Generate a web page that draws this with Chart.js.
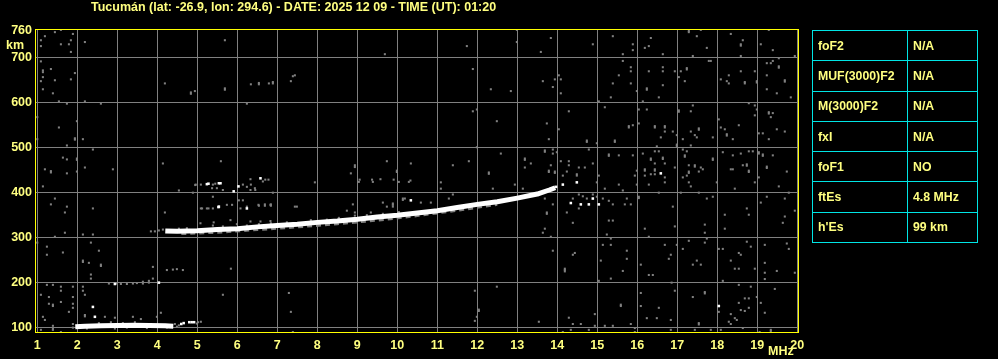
<!DOCTYPE html>
<html><head><meta charset="utf-8">
<script src="https://cdn.jsdelivr.net/npm/chart.js@4.4.1/dist/chart.umd.min.js"></script>
<style>
html,body{margin:0;padding:0;background:#000;}
#wrap{position:relative;width:998px;height:359px;background:#000;overflow:hidden;font-family:"Liberation Sans",Arial,sans-serif;}
#c{position:absolute;left:0;top:0;}
.lbl{position:absolute;color:#ffff80;font-weight:bold;white-space:nowrap;}
#title{left:91px;top:0px;font-size:12.5px;line-height:14px;}
#km{left:6px;top:38px;font-size:12.5px;line-height:14px;}
#mhz{left:768px;top:344px;font-size:12.5px;line-height:14px;}
#tbl{position:absolute;left:812px;top:30px;border-collapse:collapse;}
#tbl td{border:1px solid #00e5e5;color:#ffff80;font-weight:bold;font-size:12.3px;padding:0 0 0 5px;height:30.3px;box-sizing:border-box;white-space:nowrap;}
#tbl td.k{width:95px;}
#tbl td.v{width:70px;}
</style></head>
<body>
<div id="wrap">
<canvas id="c" width="998" height="359"></canvas>
<div class="lbl" id="title">Tucumán (lat: -26.9, lon: 294.6) - DATE: 2025 12 09 - TIME (UT): 01:20</div>
<div class="lbl" id="km">km</div>
<div class="lbl" id="mhz">MHz</div>
<table id="tbl"></table>
</div>
<script>
// ---- tick labels ----
const freqTicks = [1,2,3,4,5,6,7,8,9,10,11,12,13,14,15,16,17,18,19,20];
const heightTicks = [100,200,300,400,500,600,700,760];

// ---- scaled parameters table ----
const paramNames = ["foF2","MUF(3000)F2","M(3000)F2","fxI","foF1","ftEs","h'Es"];
const paramValues = ["N/A","N/A","N/A","N/A","NO","4.8 MHz","99 km"];

// ---- F-layer trace (MHz, km) ----
const fTraceFreq   = [4.2, 4.5, 5.0, 5.5, 6.0, 6.5, 7.0, 7.5, 8.0, 8.5, 9.0, 9.5, 10.0, 10.5, 11.0, 11.5, 12.0, 12.5, 13.0, 13.5, 13.8, 13.95];
const fTraceHeight = [315, 314, 315.5, 318, 320, 324, 327, 330, 334, 337, 341, 346, 350, 355, 360, 367, 374, 380, 388, 397, 406, 411];
const fFringeFreq   = [4.6, 5.5, 6.5, 7.5, 8.5, 9.5, 10.5, 11.5, 12.5];
const fFringeHeight = [309, 312, 318, 324, 331, 339, 349, 361, 374];

// ---- sporadic E trace ----
const esFreq   = [1.95, 2.2, 2.6, 3.0, 3.4, 3.8, 4.2, 4.4];
const esHeight = [102, 103, 104, 104.5, 105, 104.5, 104, 103];

// ---- strong isolated echoes ----
const strongEchoes = [[5.24,419],[5.54,421],[5.28,420],[5.58,421],[5.91,403],[6.03,414],[6.58,432],[5.53,368],[6.24,365],[5.54,369],[10.34,383],[2.39,146],[2.44,124],[2.94,197],[4.04,200],[14.34,377],[14.59,374],[14.79,374],[14.89,387],[15.04,374],[14.14,418],[14.49,423],[16.59,443],[18.04,148],[4.6,108],[4.66,110],[4.8,112],[4.86,112],[4.92,112],[13.9,410],[13.97,413]];

// ---- weak echoes / noise ----
const noiseUpperLeft = [[1.59,762],[1.44,757],[1.89,753],[1.19,748],[1.09,739],[1.84,739],[1.59,730],[1.79,730],[1.09,726],[2.19,735],[1.84,713],[5.69,739],[9.69,708],
[1.09,692],[1.14,672],[1.14,668],[1.34,675],[1.94,666],[1.14,657],[1.44,650],[1.84,652],[1.09,648],[1.14,630],[1.39,621],[1.54,603],[2.19,603],[1.74,598],[2.59,598],
[4.19,643],[4.84,623],[4.84,620],[4.94,626],[5.69,632],[5.69,629],[6.34,641],[6.54,641],[6.54,644],[6.79,643],[6.89,646],[6.89,643],[7.34,648],[7.39,659],[7.44,661],[6.24,598],
[1.0,568],[1.99,559],[1.54,545],[1.94,521],[1.94,518],[2.14,519],[1.0,519],[1.74,505],[2.39,496],[1.64,478],[1.74,474],[1.99,476],[1.99,473],[4.14,465],[5.59,470],[2.19,456],[2.89,452],[1.19,452],[1.34,445],[1.34,448],[1.74,443],[1.99,447],[8.94,461],[8.94,457],[8.84,443],[9.74,470],[9.99,449],[9.99,446],[10.34,465]];

const noiseUpperRight = [[12.99,762],[11.74,726],[12.99,735],[13.84,744],[13.59,713],[14.89,730],[15.39,748],[15.89,730],[15.89,717],[15.64,708],[16.19,722],[16.29,726],[16.34,744],[16.64,708],[17.29,760],[17.29,757],[17.59,762],[17.49,748],[17.74,722],[17.39,704],[18.34,753],[18.64,739],[18.59,730],[18.59,727],[18.59,704],[19.09,730],[19.39,717],[19.29,762],[19.94,704],
[11.89,675],[12.34,630],[12.84,626],[13.64,648],[13.89,635],[13.94,652],[14.04,661],[14.09,652],[14.09,621],[15.04,603],[15.34,612],[15.39,643],[15.54,661],[15.64,693],[15.84,679],[15.84,670],[15.84,643],[15.99,626],[16.14,603],[16.24,632],[16.24,629],[16.29,670],[16.54,612],[16.64,639],[16.64,679],[16.64,670],[16.94,670],[17.09,670],[17.04,657],[17.24,677],[17.24,674],[17.19,648],[17.79,693],[17.84,693],[18.09,652],[18.24,648],[18.29,661],[18.29,643],[18.59,670],[18.69,646],[18.69,643],[18.94,670],[18.99,648],[18.99,645],[19.24,688],[19.34,688],[19.39,693],[19.54,681],[19.54,678],[19.54,699],[19.24,661],[19.24,630],[19.49,621],[19.69,650],[19.69,647],[19.84,612],
[11.89,581],[11.99,585],[12.49,559],[13.74,554],[14.04,541],[14.29,581],[13.79,519],[14.74,516],[14.74,513],[14.99,510],[15.19,590],[15.44,516],[15.44,513],[15.79,548],[15.79,545],[15.89,550],[16.04,585],[16.04,554],[16.24,585],[16.44,548],[16.44,545],[16.69,548],[16.69,545],[16.69,536],[16.59,523],[16.89,536],[16.99,528],[16.99,507],[16.99,504],[17.04,583],[17.04,580],[17.34,581],[17.39,594],[17.14,519],[17.34,536],[17.44,528],[17.54,543],[17.54,540],[17.49,523],[17.34,505],[17.89,523],[18.04,563],[18.09,545],[18.19,541],[18.24,530],[18.24,527],[18.39,519],[18.54,550],[18.79,599],[18.94,594],[18.99,585],[18.94,572],[19.04,532],[19.14,532],[19.29,579],[19.29,576],[19.39,577],[19.34,568],[19.49,541],[19.69,536],[19.29,519],
[11.39,461],[11.79,470],[12.29,445],[12.29,442],[11.99,501],[12.59,487],[13.19,476],[13.19,473],[13.34,465],[13.19,456],[13.69,494],[13.69,491],[13.89,496],[13.89,487],[13.99,490],[13.84,461],[13.79,449],[13.79,446],[13.94,447],[13.94,444],[14.09,470],[14.29,470],[14.29,461],[14.14,438],[14.24,447],[14.54,456],[14.69,456],[14.89,465],[14.79,496],[14.49,441],[14.49,438],[15.04,438],[15.29,485],[15.29,482],[15.54,483],[15.89,483],[16.14,487],[16.34,476],[16.34,473],[16.44,492],[16.49,503],[16.54,492],[16.64,478],[16.64,475],[16.69,465],[16.44,465],[16.44,452],[16.44,449],[16.34,441],[16.44,441],[16.19,452],[16.19,449],[16.19,438],[15.99,449],[15.94,438],[16.69,434],[16.94,456],[17.14,496],[17.24,492],[17.19,483],[17.19,480],[17.29,461],[17.44,461],[17.44,458],[17.59,456],[17.64,452],[17.29,447],[17.29,444],[17.24,438],[17.14,434],[17.54,447],[17.89,476],[17.89,473],[18.14,490],[18.39,483],[18.59,487],[18.79,492],[18.89,492],[19.04,490],[19.04,487],[19.14,485],[19.14,482],[19.39,483],[18.74,463],[18.74,460],[18.79,449],[18.79,446],[18.64,461],[18.34,452],[18.39,452],[19.24,458],[19.24,455],[19.74,447],[19.04,434]];

const noiseLowerLeft = [[1.14,414],[1.34,374],[1.44,387],[1.74,369],[1.69,356],[2.39,365],[1.69,311],[1.44,302],[2.14,307],[2.39,307],[2.34,289],[1.24,280],[1.24,262],[1.64,267],[2.54,271],[2.14,249],[2.14,246],[2.29,244],[2.59,240],[2.59,237],[2.34,218],[2.34,209],[1.0,289],[1.24,195],[1.39,195],[1.59,191],[1.59,182],[1.89,191],[2.14,191],[2.14,182],[2.19,173],[1.09,173],[1.29,168],[1.59,157],[1.39,151],[1.39,148],[1.29,153],[1.89,168],[1.89,153],[1.89,144],[1.79,135],[1.14,124],[1.19,117],[1.39,104],[1.09,95],[1.39,95],[1.39,98],[1.59,90],[2.19,128],[2.19,125],[2.69,124],[2.94,122],[3.39,124],[3.59,119],[3.99,124],[4.09,133],[3.89,235],[3.79,204],[3.89,209],[4.19,356],[5.64,173],[7.29,177],[7.34,135],[7.39,90],[5.09,113],[7.44,369],[6.14,383],[6.24,369],[6.54,371],[6.69,371],[6.69,374],[6.84,371],[6.84,374],[6.04,383],[5.09,365],[5.24,365],[5.39,365],[8.89,374],[8.74,360],[8.94,356],[9.34,356],[9.64,378],[9.74,369],[9.89,369],[9.89,373],[9.89,376],[10.14,387],[10.19,387],[10.14,384],[7.94,423],[9.04,424],[9.39,424],[10.04,424],[10.29,424],
[2.79,198],[2.99,198],[3.09,197],[3.24,197],[3.39,198],[3.49,199],[3.64,198],[3.79,200],[3.64,202],
[4.24,228],[4.39,229],[4.49,230],[4.64,228],[5.84,231],
[1.89,100],[2.24,98],[2.94,98],[3.24,100],[3.74,99],[4.24,100],[4.49,102],[4.54,105],[4.99,109],[5.02,112],[4.44,108],[1.89,108],[2.54,110],[2.84,112],[3.14,110],[3.44,112],
[3.84,314],[3.94,314],[4.04,316],[4.14,318],[4.54,320],[4.74,321],
[5.39,327],[5.64,325],[5.99,330],[6.24,327],[6.54,330],[6.84,332],[7.24,334],[7.84,339],[8.24,340],[8.54,344],[8.94,349],[9.24,350],[9.64,353],[10.04,357]];

const spreadF = [[4.96,418],[5.09,418],[5.39,418],[4.54,405],[4.89,400],[5.39,391],[5.64,406],[6.14,418],[6.34,418],[6.24,413],[6.44,410],[6.64,425],[6.89,400],[5.37,410],[5.49,410],[6.33,406],[6.45,406],[6.33,430],[6.70,429],[6.78,429],[9.06,429],[9.37,429],[9.58,430],[9.91,429],[10.33,427],[5.12,365],[5.28,365],[5.74,373],[5.87,373],[6.08,365],[6.53,373],[6.83,373],[7.49,369],[5.08,332],[5.41,334],[5.83,339],[6.33,336],[6.58,336],[6.83,337],[4.95,417],[5.45,420]];

const noiseLowerRight = [[14.39,387],[14.54,396],[14.64,392],[14.74,387],[14.89,396],[14.99,391],[15.14,387],[15.29,382],[15.39,374],[15.64,405],[15.74,387],[15.84,374],[15.69,374],[14.54,365],[14.24,356],[13.89,374],[13.69,387],[13.74,356],[13.74,353],
[11.09,423],[11.09,409],[11.29,387],[11.39,396],[10.59,378],[10.84,378],[12.39,409],[12.94,418],[13.14,409],[14.99,423],[15.19,409],[15.54,418],[15.99,418],[16.04,391],[16.04,388],[16.29,418],[16.54,400],[16.69,423],[16.89,369],[17.09,400],[17.29,423],[17.34,414],[17.54,400],[17.74,387],[17.89,391],[17.99,423],[18.44,409],[18.94,423],[19.24,391],[19.54,414],[19.69,387],[19.79,400],[19.94,360],[19.09,378],[18.74,365],[18.79,351],[19.69,347],[19.64,333],[18.19,351],[18.19,320],[17.69,329],[17.69,311],[17.74,298],[17.69,289],[16.94,325],[16.19,320],[16.29,302],[15.24,307],[15.29,338],[15.39,338],[14.39,333],[13.64,311],[13.69,320],[13.84,302],[13.89,271],[14.39,262],[14.44,266],[14.19,231],[14.19,228],[14.19,225],[15.14,284],[15.34,284],[15.34,298],[15.09,249],[15.74,271],[15.74,253],[15.64,226],[16.09,240],[16.29,217],[16.39,217],[16.69,284],[16.79,253],[16.84,262],[16.99,284],[17.14,275],[17.29,293],[17.39,240],[17.49,249],[17.59,240],[18.04,275],[18.14,275],[18.34,249],[18.44,231],[18.54,231],[18.54,266],[18.59,262],[18.74,291],[18.84,280],[18.94,231],[19.19,284],[19.19,244],[19.19,222],[19.19,208],[19.49,226],[19.74,287],[19.79,275],[19.94,222],[15.04,204],[15.34,209],[16.86,200],[16.94,182],[18.14,204],[18.54,195],[18.84,191],[18.99,168],[19.44,186],[19.09,155],[19.19,133],[11.94,182],[12.49,191],[12.04,137],[12.04,140],[11.99,124],[11.94,115],[13.54,113],[14.29,122],[14.39,108],[14.59,108],[14.94,130],[14.94,104],[14.79,95],[15.19,104],[15.39,104],[15.59,151],[15.59,148],[15.84,108],[15.94,99],[15.94,90],[16.09,177],[16.09,148],[16.24,121],[16.49,121],[16.54,144],[16.84,117],[16.84,95],[17.39,168],[17.69,179],[17.69,176],[17.54,110],[17.54,107],[18.04,135],[18.34,130],[18.29,113],[18.34,108],[18.44,121],[18.49,117],[18.59,139],[18.69,137],[18.79,144],[18.54,155],[18.69,165],[18.79,165],[14.14,90],[14.34,95],[17.44,95],[17.84,95],[18.09,95],[19.34,95],[19.34,92],[18.64,99],[19.06,90]];

// ---- build table ----
const tbl = document.getElementById('tbl');
paramNames.forEach((n,i)=>{
  const tr = document.createElement('tr');
  const a = document.createElement('td'); a.className='k'; a.textContent=n;
  const b = document.createElement('td'); b.className='v'; b.textContent=paramValues[i];
  tr.appendChild(a); tr.appendChild(b); tbl.appendChild(tr);
});

// ---- chart ----
const GRAY = '#808080';
const YEL = '#ffff80';
const toXY = arr => arr.map(p=>({x:p[0], y:p[1]}));
const lineXY = (fx, hy) => fx.map((f,i)=>({x:f, y:hy[i]}));

const boxPlugin = {
  id:'box',
  afterDraw(chart){
    const {ctx, chartArea:a} = chart;
    ctx.save();
    ctx.strokeStyle = '#ffff00';
    ctx.lineWidth = 1;
    ctx.strokeRect(a.left-0.5, a.top+0.5, (a.right+0.5)-(a.left-0.5), (a.bottom-0.5)-(a.top+0.5));
    ctx.restore();
  }
};

Chart.defaults.font.family = '"Liberation Sans", Arial, sans-serif';

new Chart(document.getElementById('c'), {
  type:'scatter',
  data:{
    datasets:[
      {label:'F trace', data: lineXY(fTraceFreq, fTraceHeight), showLine:true, borderColor:'#ffffff', borderWidth:5, pointRadius:0, tension:0, borderJoinStyle:'round'},
      {label:'Es trace', data: lineXY(esFreq, esHeight), showLine:true, borderColor:'#ffffff', borderWidth:5, pointRadius:0, tension:0, borderJoinStyle:'round'},
      {label:'strong', data: toXY(strongEchoes), pointStyle:'rect', pointRadius:1.8, backgroundColor:'#ffffff', borderWidth:0},
      {label:'fringe', data: lineXY(fFringeFreq, fFringeHeight), showLine:true, borderColor:GRAY, borderWidth:3, borderDash:[5,4], pointRadius:0, tension:0},
      {label:'noise', data: toXY([].concat(noiseUpperLeft, noiseUpperRight, noiseLowerLeft, spreadF, noiseLowerRight)), pointStyle:'rect', pointRadius:1.45, backgroundColor:GRAY, borderWidth:0}
    ]
  },
  options:{
    responsive:false, animation:false, events:[],
    layout:{padding:{left:0, top:29, right:200, bottom:0}},
    plugins:{legend:{display:false}, title:{display:false}, tooltip:{enabled:false}},
    scales:{
      x:{
        type:'linear', min:0.9675, max:20.02,
        afterBuildTicks(s){ s.ticks = freqTicks.map(v=>({value:v})); },
        afterFit(s){ s.height = 26; },
        grid:{color:GRAY, lineWidth:1, drawTicks:false},
        border:{display:false},
        ticks:{color:YEL, font:{size:12.5, weight:'bold'}, padding:5, maxRotation:0, autoSkip:false}
      },
      y:{
        type:'linear', min:88, max:764,
        afterBuildTicks(s){ s.ticks = heightTicks.map(v=>({value:v})); },
        afterFit(s){ s.width = 36; },
        grid:{color:(c)=> (c.tick && c.tick.value===760) ? 'rgba(0,0,0,0)' : GRAY, lineWidth:1, drawTicks:false},
        border:{display:false},
        ticks:{color:YEL, font:{size:12.5, weight:'bold'}, padding:4, autoSkip:false}
      }
    }
  },
  plugins:[boxPlugin]
});
</script>
</body></html>
